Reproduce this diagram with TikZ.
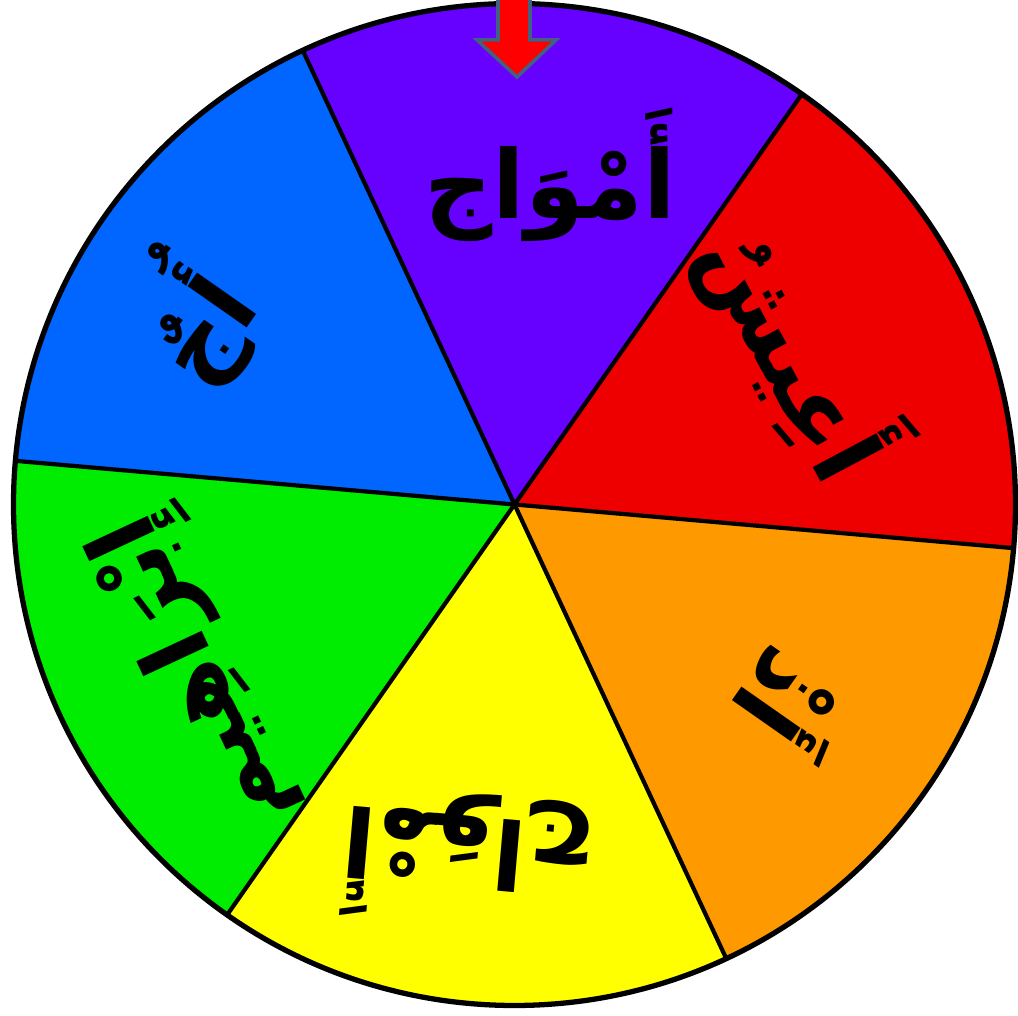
\documentclass[tikz,border=0pt]{standalone}
\usepackage{fontspec}
\newfontfamily\arabicfont[Script=Arabic]{DejaVu Sans}
\TeXXeTstate=1
\usetikzlibrary{calc}

\definecolor{wPurple}{RGB}{102,0,255}
\definecolor{wRed}{RGB}{238,0,0}
\definecolor{wOrange}{RGB}{255,153,0}
\definecolor{wYellow}{RGB}{255,255,0}
\definecolor{wGreen}{RGB}{0,236,0}
\definecolor{wBlue}{RGB}{0,102,255}
\definecolor{pinEdge}{RGB}{66,96,130}

\begin{document}
\begin{tikzpicture}[x=0.02cm, y=0.02cm,
  word/.style={font=\arabicfont\bfseries\fontsize{54}{60}\selectfont, inner sep=0pt},
  spoke/.style={line width=2.4pt, black}]
  \useasboundingbox (0,0) rectangle (1018,1016);
  \coordinate (c) at (514.5,511.5);
  % sectors
  \foreach \a/\col in {55/wPurple, -5/wRed, -65/wOrange, -125/wYellow, 175/wGreen, 115/wBlue}
    \fill[\col] (c) -- ++(\a:501) arc[start angle=\a, delta angle=60, radius=501] -- cycle;
  \foreach \a in {55,-5,-65,-125,175,115}
    \draw[spoke] (c) -- ++(\a:501);
  \draw[line width=3pt] (c) circle[radius=501];
  % words
  \node[word] (amwaj) at (550,841) {\beginR أَمْوَاج\endR};
  \node[word, rotate=-62] (aeesh) at (800,666) {\beginR أَعِيشُ\endR};
  \node[word, rotate=-125] (adh) at (795,311) {\beginR أَذْ\endR};
  \node[word, rotate=175] (amwaj2) at (468,156) {\beginR أَمْوَاج\endR};
  \node[word, rotate=115] (ibrahim) at (200,346) {\beginR إِبْرَاهِيم\endR};
  \node[word, rotate=55] (aj) at (190,696) {\beginR أُجٌ\endR};
  % pointer
  \draw[fill=red, draw=pinEdge, line width=2pt] (498,1030) -- (498,976) -- (477,976)
    -- (517,939) -- (556,976) -- (530,976) -- (530,1030) -- cycle;
\end{tikzpicture}
\end{document}
